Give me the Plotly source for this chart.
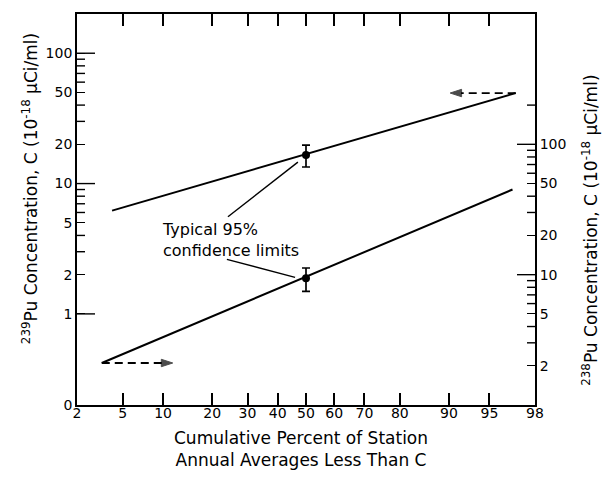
import math
from statistics import NormalDist
import plotly.graph_objects as go

nd = NormalDist()


def z(p):
    return nd.inv_cdf(p / 100.0)


# ---------------- data ----------------
pct_ticks = [2, 5, 10, 20, 30, 40, 50, 60, 70, 80, 90, 95, 98]

# 239Pu (left axis)
pu239_pct = [4.1, 97.0]
pu239_conc = [6.2, 49.5]
pu239_mid_pct = [50]
pu239_mid = [16.6]
pu239_lo = [13.4]
pu239_hi = [19.7]
arrow239_pct = [97.0, 90.2]
arrow239_conc = [49.5, 49.5]

# 238Pu (right axis)
pu238_pct = [3.35, 96.8]
pu238_conc = [2.1, 45.0]
pu238_mid_pct = [50]
pu238_mid = [9.4]
pu238_lo = [7.45]
pu238_hi = [11.25]
arrow238_pct = [3.35, 11.6]
arrow238_conc = [2.1, 2.1]

# leader lines for the note (left-axis units)
lead1_pct = [24.2, 47.1]
lead1_conc = [5.57, 14.6]
lead2_pct = [23.9, 46.1]
lead2_conc = [2.62, 1.905]

left_ticks = [0.2, 1, 2, 5, 10, 20, 50, 100]
left_text = ["0", "1", "2", "5", "10", "20", "50", "100"]
left_major = [1, 10, 100]
left_minor = [3, 4, 6, 7, 8, 9, 30, 40, 60, 70, 80, 90]
right_ticks = [2, 5, 10, 20, 50, 100]
right_text = ["2", "5", "10", "20", "50", "100"]
right_major = [10, 100]
right_minor = [3, 4, 6, 7, 8, 9, 30, 40, 60, 70, 80, 90, 200]

FONT = "DejaVu Sans"
BLACK = "black"

fig = go.Figure()

# main lines
fig.add_trace(go.Scatter(x=[z(p) for p in pu239_pct], y=pu239_conc, mode="lines",
                         line=dict(color=BLACK, width=2), yaxis="y", showlegend=False))
fig.add_trace(go.Scatter(x=[z(p) for p in pu238_pct], y=pu238_conc, mode="lines",
                         line=dict(color=BLACK, width=2), yaxis="y2", showlegend=False))

# points with error bars
fig.add_trace(go.Scatter(
    x=[z(p) for p in pu239_mid_pct], y=pu239_mid, mode="markers",
    marker=dict(color=BLACK, size=8),
    error_y=dict(type="data", symmetric=False,
                 array=[h - m for h, m in zip(pu239_hi, pu239_mid)],
                 arrayminus=[m - l for l, m in zip(pu239_lo, pu239_mid)],
                 color=BLACK, thickness=1.7, width=4),
    yaxis="y", showlegend=False))
fig.add_trace(go.Scatter(
    x=[z(p) for p in pu238_mid_pct], y=pu238_mid, mode="markers",
    marker=dict(color=BLACK, size=8),
    error_y=dict(type="data", symmetric=False,
                 array=[h - m for h, m in zip(pu238_hi, pu238_mid)],
                 arrayminus=[m - l for l, m in zip(pu238_lo, pu238_mid)],
                 color=BLACK, thickness=1.7, width=4),
    yaxis="y2", showlegend=False))

# dashed arrows
fig.add_trace(go.Scatter(x=[z(p) for p in arrow239_pct], y=arrow239_conc, mode="lines+markers",
                         line=dict(color=BLACK, width=1.8, dash="8px,5px"),
                         marker=dict(symbol="arrow", angleref="previous", size=[0, 12], color=BLACK,
                                     line=dict(color=BLACK, width=1)),
                         yaxis="y", showlegend=False))
fig.add_trace(go.Scatter(x=[z(p) for p in arrow238_pct], y=arrow238_conc, mode="lines+markers",
                         line=dict(color=BLACK, width=1.8, dash="8px,5px"),
                         marker=dict(symbol="arrow", angleref="previous", size=[0, 12], color=BLACK,
                                     line=dict(color=BLACK, width=1)),
                         yaxis="y2", showlegend=False))

# leader lines
for lx, ly in [(lead1_pct, lead1_conc), (lead2_pct, lead2_conc)]:
    fig.add_trace(go.Scatter(x=[z(p) for p in lx], y=ly, mode="lines",
                             line=dict(color=BLACK, width=1.4), yaxis="y", showlegend=False))

xr = [z(pct_ticks[0]), z(pct_ticks[-1])]
lr = [math.log10(0.2), math.log10(200)]
rr = [0, 3]

PLOT_W = 458  # plot-area width in px
MINOR_LEN = 8
MAJOR_LEN = 18

tickfont = dict(family=FONT, size=14, color=BLACK)

# page body has an 8px default margin -> figure is 8px smaller and margins shifted
fig.update_layout(
    width=602, height=470,
    margin=dict(l=69, r=75, t=4, b=73),
    paper_bgcolor="white", plot_bgcolor="white",
    font=dict(family=FONT, color=BLACK),
    xaxis=dict(range=xr, tickvals=[z(p) for p in pct_ticks], ticktext=[str(p) for p in pct_ticks],
               ticks="inside", ticklen=12, tickwidth=1.5, tickcolor=BLACK, ticklabelstandoff=-6,
               showline=True, linewidth=1.8, linecolor=BLACK, mirror="ticks",
               showgrid=False, zeroline=False, tickfont=tickfont),
    yaxis=dict(type="log", range=lr, tickvals=left_ticks, ticktext=left_text,
               ticks="inside", ticklen=MINOR_LEN, tickwidth=1.4, tickcolor=BLACK,
               showline=True, linewidth=1.8, linecolor=BLACK, mirror=True,
               showgrid=False, zeroline=False, tickfont=tickfont),
    yaxis2=dict(type="log", range=rr, overlaying="y", side="right", tickvals=right_ticks,
                ticktext=right_text, ticks="inside", ticklen=MINOR_LEN, tickwidth=1.4, tickcolor=BLACK,
                showline=True, linewidth=1.8, linecolor=BLACK,
                showgrid=False, zeroline=False, tickfont=tickfont),
)

# extra tick marks (long decade ticks and short minor ticks), placed by tick value
for vals, length, yref, side in [(left_major, MAJOR_LEN, "y", "left"),
                                 (left_minor, MINOR_LEN, "y", "left"),
                                 (right_major, MAJOR_LEN, "y2", "right"),
                                 (right_minor, MINOR_LEN, "y2", "right")]:
    for v in vals:
        if side == "left":
            x0, x1 = 0, length / PLOT_W
        else:
            x0, x1 = 1 - length / PLOT_W, 1
        fig.add_shape(type="line", xref="paper", yref=yref, x0=x0, x1=x1,
                      y0=v, y1=v,
                      line=dict(color=BLACK, width=1.4), layer="above")

fig.add_annotation(text="Cumulative Percent of Station<br>Annual Averages Less Than C",
                   xref="paper", yref="paper", x=0.489, y=-0.112, xanchor="center", yanchor="middle",
                   showarrow=False, font=dict(family=FONT, size=17, color=BLACK))
fig.add_annotation(text="<sup>239</sup>Pu Concentration, C (10<sup>-18</sup> \u03bcCi/ml)",
                   xref="paper", yref="paper", x=-0.1026, y=0.552, xanchor="center", yanchor="middle",
                   textangle=-90, showarrow=False, font=dict(family=FONT, size=17, color=BLACK))
fig.add_annotation(text="<sup>238</sup>Pu Concentration, C (10<sup>-18</sup> \u03bcCi/ml)",
                   xref="paper", yref="paper", x=1.12, y=0.448, xanchor="center", yanchor="middle",
                   textangle=-90, showarrow=False, font=dict(family=FONT, size=17, color=BLACK))
fig.add_annotation(text="Typical 95%<br>confidence limits", align="left",
                   xref="x", yref="y", x=z(9.5), y=math.log10(3.68), xanchor="left", yanchor="middle",
                   showarrow=False, font=dict(family=FONT, size=16, color=BLACK))

fig.write_html("out.html")
